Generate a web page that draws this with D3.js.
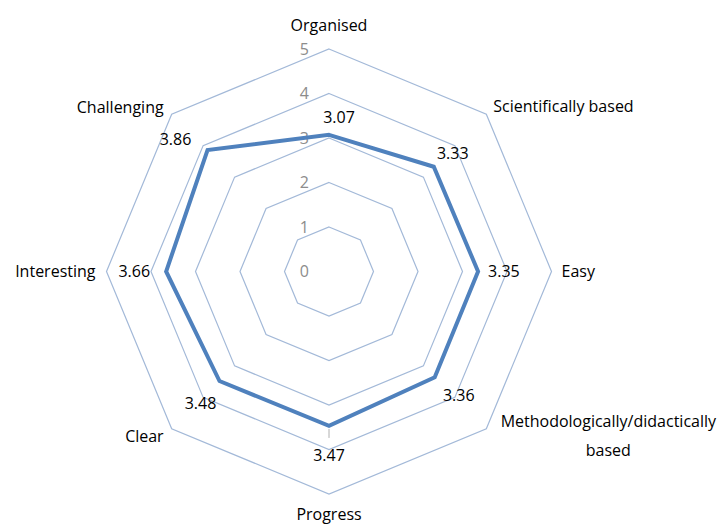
<!DOCTYPE html>
<html>
<head>
<meta charset="utf-8">
<script src="https://cdn.jsdelivr.net/npm/d3@7"></script>
<style>
  html, body { margin: 0; padding: 0; background: #fff; }
  svg text { font-family: "Open Sans", sans-serif; }
</style>
</head>
<body>
<div id="chart"></div>
<script>
// categories, clockwise from the top
const categories = ["Organised", "Scientifically based", "Easy", "Methodologically/didactically based",
                    "Progress", "Clear", "Interesting", "Challenging"];
const values = [3.07, 3.33, 3.35, 3.36, 3.47, 3.48, 3.66, 3.86];
const ticks = [0, 1, 2, 3, 4, 5];

const width = 724, height = 524;
const cx = 329, cy = 271.5;
const radius = 222.5;
const fontSize = 16;

// where the text goes relative to its point (layout only)
const catLayout = [
  { dx: 0, dy: -24, anchor: "middle" },
  { dx: 7, dy: -8, anchor: "start" },
  { dx: 10, dy: 0, anchor: "start" },
  { dx: 122, dy: -7, anchor: "middle", lines: ["Methodologically/didactically", "based"] },
  { dx: 0, dy: 20, anchor: "middle" },
  { dx: -8, dy: 8, anchor: "end" },
  { dx: -11, dy: 0, anchor: "end" },
  { dx: -8, dy: -7, anchor: "end" }
];
const valLayout = [
  { dx: 10, dy: -17, anchor: "middle" },
  { dx: 19, dy: -13, anchor: "middle" },
  { dx: 10, dy: 0, anchor: "start" },
  { dx: 24, dy: 18, anchor: "middle" },
  { dx: 0, dy: 29, anchor: "middle" },
  { dx: -19, dy: 22, anchor: "middle" },
  { dx: -16, dy: 0, anchor: "end" },
  { dx: -32, dy: -11, anchor: "middle" }
];

const r = d3.scaleLinear().domain([0, 5]).range([0, radius]);
const angle = d3.scaleLinear().domain([0, categories.length]).range([0, 2 * Math.PI]);

function pt(i, v) {
  const a = angle(i);
  return [cx + r(v) * Math.sin(a), cy - r(v) * Math.cos(a)];
}

const svg = d3.select("#chart").append("svg")
  .attr("width", width)
  .attr("height", height);

// grid rings
const ringLine = d3.line();
svg.append("g").selectAll("path.ring")
  .data(ticks.slice(1))
  .join("path")
  .attr("class", "ring")
  .attr("d", t => ringLine(categories.map((c, i) => pt(i, t))) + "Z")
  .attr("fill", "none")
  .attr("stroke", "#a3b9d8")
  .attr("stroke-width", 1.2);

// tick labels along the top spoke
svg.append("g").selectAll("text")
  .data(ticks)
  .join("text")
  .attr("x", cx - 20)
  .attr("y", t => cy - r(t))
  .attr("dy", "0.35em")
  .attr("text-anchor", "end")
  .attr("font-size", fontSize)
  .attr("fill", "#8c8c8c")
  .text(t => t);

// series line
svg.append("path")
  .attr("d", ringLine(values.map((v, i) => pt(i, v))) + "Z")
  .attr("fill", "none")
  .attr("stroke", "#4f81bd")
  .attr("stroke-width", 4)
  .attr("stroke-linejoin", "miter");

// small leader under the Progress value
const pp = pt(4, values[4]);
svg.append("line")
  .attr("x1", pp[0]).attr("x2", pp[0])
  .attr("y1", pp[1] + 3).attr("y2", pp[1] + 12)
  .attr("stroke", "#b0b0b0")
  .attr("stroke-width", 1);

// value labels
svg.append("g").selectAll("text")
  .data(values)
  .join("text")
  .attr("x", (v, i) => pt(i, v)[0] + valLayout[i].dx)
  .attr("y", (v, i) => pt(i, v)[1] + valLayout[i].dy)
  .attr("dy", "0.35em")
  .attr("text-anchor", (v, i) => valLayout[i].anchor)
  .attr("font-size", fontSize)
  .attr("fill", "#000")
  .text(v => v.toFixed(2));

// category labels
const cat = svg.append("g").selectAll("text")
  .data(categories)
  .join("text")
  .attr("x", (c, i) => pt(i, 5)[0] + catLayout[i].dx)
  .attr("y", (c, i) => pt(i, 5)[1] + catLayout[i].dy)
  .attr("text-anchor", (c, i) => catLayout[i].anchor)
  .attr("font-size", fontSize)
  .attr("fill", "#000");

cat.each(function (c, i) {
  const el = d3.select(this);
  const lines = catLayout[i].lines || [c];
  const x = pt(i, 5)[0] + catLayout[i].dx;
  lines.forEach((ln, k) => {
    el.append("tspan")
      .attr("x", x)
      .attr("dy", k === 0 ? "0.35em" : "29px")
      .text(ln);
  });
});
</script>
</body>
</html>
